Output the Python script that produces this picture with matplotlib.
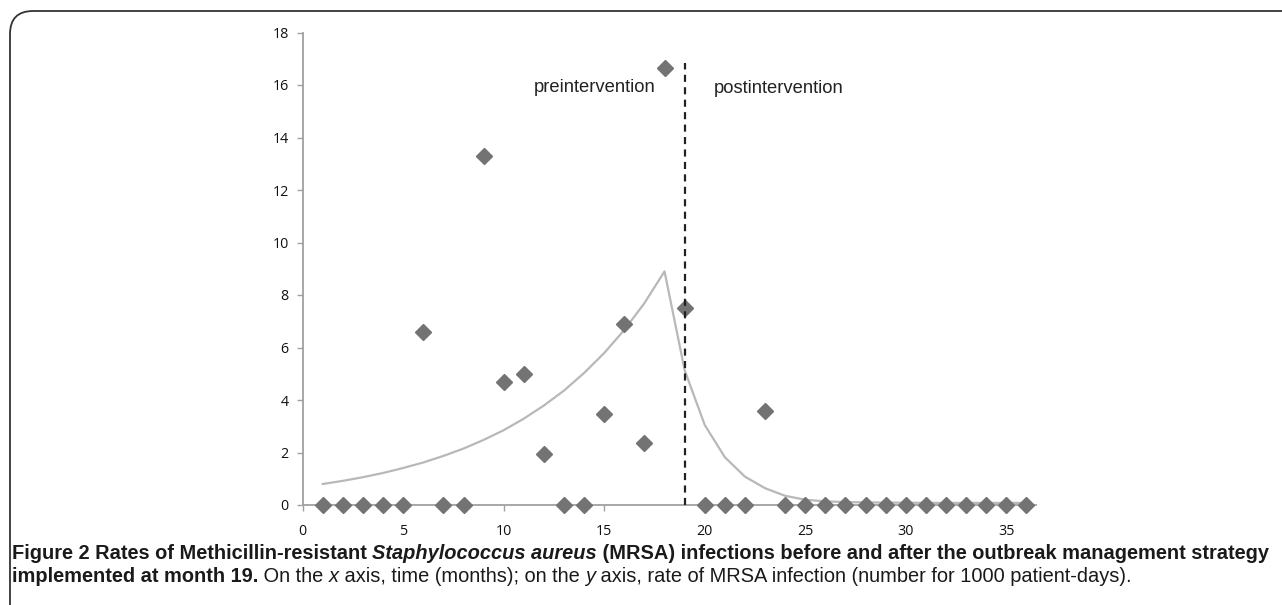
import numpy as np
import matplotlib
matplotlib.use("Agg")
import matplotlib.pyplot as plt
from matplotlib.patches import FancyBboxPatch

# observed monthly MRSA rates (per 1000 patient-days)
months = list(range(1, 37))
rates = [0, 0, 0, 0, 0, 6.6, 0, 0, 13.3, 4.7, 5.0, 1.95, 0, 0, 3.45, 6.9, 2.35, 16.65,
         7.5, 0, 0, 0, 3.6, 0, 0, 0, 0, 0, 0, 0, 0, 0, 0, 0, 0, 0]

# fitted trend line
trend_x = list(range(1, 37))
trend_y = [0.80, 0.92, 1.06, 1.22, 1.41, 1.62, 1.87, 2.15, 2.48, 2.85, 3.29, 3.79,
           4.36, 5.03, 5.79, 6.67, 7.69, 8.90,
           5.14, 3.05, 1.82, 1.08, 0.64, 0.35, 0.20, 0.14, 0.11, 0.10, 0.09, 0.09,
           0.08, 0.08, 0.08, 0.08, 0.08, 0.08]

intervention_month = 19
x_ticks = [0, 5, 10, 15, 20, 25, 30, 35]
y_ticks = [0, 2, 4, 6, 8, 10, 12, 14, 16, 18]

W, H = 1282, 605
fig = plt.figure(figsize=(W / 100, H / 100), dpi=100)

# rounded frame around the figure panel
frame = FancyBboxPatch((10 / W, -30 / H), 1.2, (H - 11 + 30) / H,
                       boxstyle="round,pad=0,rounding_size=0.018",
                       transform=fig.transFigure, fill=False,
                       edgecolor="#333333", linewidth=1.3, mutation_aspect=W / H)
fig.patches.append(frame)

ax = fig.add_axes([302.7 / W, 100 / H, 733.7 / W, 472.5 / H])
ax.set_xlim(0, 36.5)
ax.set_ylim(0, 18)

ax.plot(trend_x, trend_y, color="#b8b8b8", linewidth=1.6, zorder=2)
ax.plot(months, rates, linestyle="", marker="D", markersize=8.3,
        color="#737373", markeredgecolor="#737373", clip_on=False, zorder=3)
ax.plot([intervention_month, intervention_month], [0, 16.85], color="#222222",
        linestyle=(0, (3.2, 2.4)), linewidth=1.6, zorder=4)

ax.text(17.53, 15.9, "preintervention", ha="right", va="center",
        fontsize=13.2, family="Liberation Sans", color="#222222")
ax.text(20.45, 15.85, "postintervention", ha="left", va="center",
        fontsize=13.2, family="Liberation Sans", color="#222222")

for s in ["top", "right"]:
    ax.spines[s].set_visible(False)
for s in ["left", "bottom"]:
    ax.spines[s].set_color("#a0a0a0")
    ax.spines[s].set_linewidth(1.3)

ax.set_xticks(x_ticks)
ax.set_yticks(y_ticks)
ax.tick_params(axis="x", direction="out", length=4, width=1, color="#a0a0a0",
               pad=10, labelsize=10.3, labelcolor="#111111")
ax.tick_params(axis="y", direction="out", length=4, width=1, color="#a0a0a0",
               pad=6, labelsize=10.3, labelcolor="#111111")
for lab in ax.get_xticklabels() + ax.get_yticklabels():
    lab.set_family("Open Sans")

# caption with mixed bold / italic runs
cap_font = ["Liberation Sans", "DejaVu Sans"]
line1 = [("Figure 2 Rates of Methicillin-resistant ", "bold", "normal"),
         ("Staphylococcus aureus", "bold", "italic"),
         (" (MRSA) infections before and after the outbreak management strategy", "bold", "normal")]
line2 = [("implemented at month 19.", "bold", "normal"),
         (" On the ", "normal", "normal"),
         ("x", "normal", "italic"),
         (" axis, time (months); on the ", "normal", "normal"),
         ("y", "normal", "italic"),
         (" axis, rate of MRSA infection (number for 1000 patient-days).", "normal", "normal")]

renderer = fig.canvas.get_renderer()


def draw_runs(runs, x0, y0, size, draw=True):
    x = x0
    texts = []
    for txt, weight, style in runs:
        t = fig.text(x / W, y0 / H, txt, fontsize=size, fontweight=weight,
                     fontstyle=style, family=cap_font, va="baseline",
                     color="#1a1a1a")
        bb = t.get_window_extent(renderer=renderer)
        x += bb.width
        texts.append(t)
    if not draw:
        for t in texts:
            t.remove()
    return x - x0


# fit first caption line to the panel width like the narrow original font
w = draw_runs(line1, 12, H - 558, 12.0, draw=False)
cap_size = 12.0 * 1253 / w
draw_runs(line1, 12, H - 559, cap_size)
draw_runs(line2, 12, H - 582, cap_size)

fig.savefig("out.png", dpi=100)
